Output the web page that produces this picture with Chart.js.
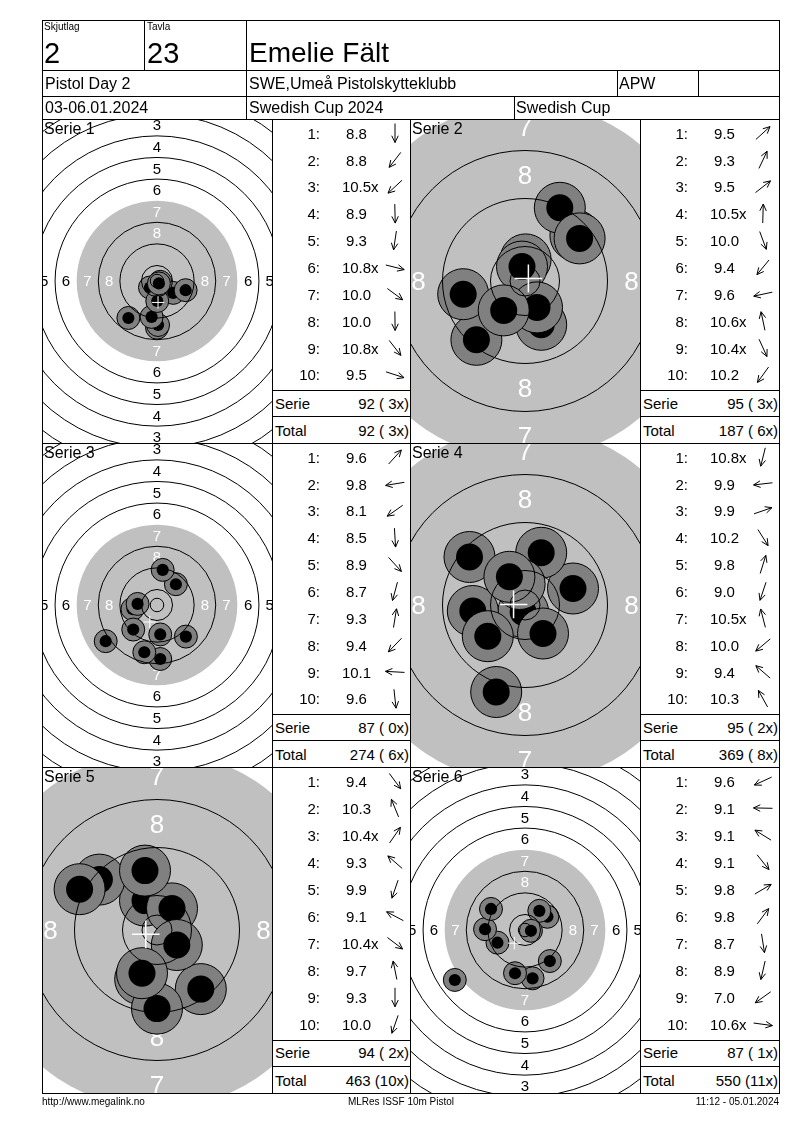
<!DOCTYPE html>
<html><head><meta charset="utf-8">
<script src="https://cdn.jsdelivr.net/npm/chart.js@4.4.1/dist/chart.umd.min.js"></script>
<style>
html,body{margin:0;padding:0;background:#fff;}
body{width:800px;height:1130px;position:relative;overflow:hidden;font-family:"Liberation Sans",Arial,sans-serif;color:#000;}
#root{position:absolute;left:0;top:0;width:800px;height:1130px;}
.a{position:absolute;white-space:pre;line-height:1;}
.h{position:absolute;background:#000;height:1px;}
.v{position:absolute;background:#000;width:1px;}
canvas{position:absolute;}
</style></head><body>
<div id="root"></div>
<script>
// ---------- header / footer texts ----------
const headLabels = ["Skjutlag", "Tavla"];
const headValues = ["2", "23", "Emelie Fält"];
const headRow2 = ["Pistol Day 2", "SWE,Umeå Pistolskytteklubb", "APW", ""];
const headRow3 = ["03-06.01.2024", "Swedish Cup 2024", "Swedish Cup"];
const footer = ["http://www.megalink.no", "MLRes ISSF 10m Pistol", "11:12 - 05.01.2024"];

// ---------- series data ----------
const seriesNames = ["Serie 1", "Serie 2", "Serie 3", "Serie 4", "Serie 5", "Serie 6"];
const scores1 = ["8.8", "8.8", "10.5x", "8.9", "9.3", "10.8x", "10.0", "10.0", "10.8x", "9.5"];
const scores2 = ["9.5", "9.3", "9.5", "10.5x", "10.0", "9.4", "9.6", "10.6x", "10.4x", "10.2"];
const scores3 = ["9.6", "9.8", "8.1", "8.5", "8.9", "8.7", "9.3", "9.4", "10.1", "9.6"];
const scores4 = ["10.8x", "9.9", "9.9", "10.2", "9.8", "9.0", "10.5x", "10.0", "9.4", "10.3"];
const scores5 = ["9.4", "10.3", "10.4x", "9.3", "9.9", "9.1", "10.4x", "9.7", "9.3", "10.0"];
const scores6 = ["9.6", "9.1", "9.1", "9.1", "9.8", "9.8", "8.7", "8.9", "7.0", "10.6x"];

// shot positions in mm from target centre (x right, y up)
const shotX1 = [0.0, -10.6, -2.6, 0.4, -2.0, 1.2, 6.0, 0.1, 0.7, 10.6];
const shotY1 = [-17.3, -13.7, -2.4, -16.3, -13.3, -0.3, -4.4, -7.4, -0.9, -3.4];
const shotX2 = [8.4, 5.8, 9.1, 0.1, 2.7, -8.1, -10.3, -0.5, 2.0, -3.55];
const shotY2 = [7.6, 12.2, 7.1, 3.6, -7.3, -9.8, -2.2, 2.4, -4.4, -4.9];
const shotX3 = [7.0, -9.1, -19.0, 1.2, 10.7, -4.7, 2.1, -8.8, -7.2, 1.2];
const shotY3 = [7.7, -1.5, -13.4, -20.0, -11.7, -17.5, 13.0, -9.1, 0.4, -10.9];
const shotX4 = [-0.3, -8.7, 8.0, 3.0, 2.7, -4.8, -0.9, -6.2, -9.25, -2.6];
const shotY4 = [-1.2, -1.0, 2.75, -4.75, 8.7, -14.5, 3.5, -5.2, 8.0, 4.7];
const shotX5 = [7.3, -2.0, 2.5, -9.6, -2.8, -12.9, 3.3, -2.0, 0.0, -2.5];
const shotY5 = [-9.85, 4.9, 3.6, 8.4, -8.2, 6.8, -2.5, 9.9, -13.1, -7.2];
const shotX6 = [-10.2, -14.8, -12.6, 9.2, 8.3, 5.3, 2.8, -3.7, -26.0, 2.2];
const shotY6 = [-4.7, 0.3, 7.8, -11.5, 4.9, 7.1, -17.9, -16.0, -18.5, -0.3];

const allScores = [scores1, scores2, scores3, scores4, scores5, scores6];
const allX = [shotX1, shotX2, shotX3, shotX4, shotX5, shotX6];
const allY = [shotY1, shotY2, shotY3, shotY4, shotY5, shotY6];

// ---------- target geometry (ISSF 10m air pistol, mm) ----------
const RING10 = 5.75, RING_STEP = 8, INNER_TEN = 2.5;
const SHOT_OUTER = 4.25, SHOT_INNER = 2.25;

const root = document.getElementById('root');
function txt(str, x, y, size, align, color) {
  const el = document.createElement('div'); el.className = 'a';
  el.textContent = str; el.style.fontSize = size + 'px';
  el.style.top = (y - 0.49 * size) + 'px';
  if (color) el.style.color = color;
  if (!align || align === 'left') el.style.left = x + 'px';
  else if (align === 'right') el.style.right = (800 - x) + 'px';
  else { el.style.left = x + 'px'; el.style.transform = 'translateX(-50%)'; }
  root.appendChild(el); return el;
}
function hline(x1, x2, y) { const d = document.createElement('div'); d.className = 'h'; d.style.left = x1 + 'px'; d.style.width = (x2 - x1 + 1) + 'px'; d.style.top = y + 'px'; root.appendChild(d); }
function vline(x, y1, y2) { const d = document.createElement('div'); d.className = 'v'; d.style.left = x + 'px'; d.style.top = y1 + 'px'; d.style.height = (y2 - y1 + 1) + 'px'; root.appendChild(d); }

function mm2px(chart, r) {
  const s = chart.scales.x;
  return Math.abs(s.getPixelForValue(r) - s.getPixelForValue(0));
}

const facePlugin = {
  id: 'targetFace',
  beforeDatasetsDraw(chart, args, opts) {
    const ctx = chart.ctx, xs = chart.scales.x, ys = chart.scales.y;
    const cx = xs.getPixelForValue(0), cy = ys.getPixelForValue(0);
    const k = mm2px(chart, 1);
    ctx.save();
    ctx.fillStyle = '#c0c0c0';
    ctx.beginPath(); ctx.arc(cx, cy, (RING10 + 3 * RING_STEP) * k, 0, Math.PI * 2); ctx.fill();
    ctx.font = opts.labelSize + 'px "Liberation Sans", Arial, sans-serif';
    ctx.textAlign = 'center'; ctx.textBaseline = 'alphabetic';
    for (let n = 1; n <= 8; n++) {
      const m = (RING10 + (10 - n) * RING_STEP - RING_STEP / 2) * k;
      ctx.fillStyle = n >= 7 ? '#ffffff' : '#000000';
      const off = 0.358 * opts.labelSize;
      [[0, -m], [0, m], [-m, 0], [m, 0]].forEach(p => ctx.fillText(String(n), cx + p[0], cy + p[1] + off));
    }
    ctx.restore();
  },
  afterDatasetsDraw(chart, args, opts) {
    const ctx = chart.ctx, xs = chart.scales.x, ys = chart.scales.y;
    const cx = xs.getPixelForValue(0), cy = ys.getPixelForValue(0);
    const k = mm2px(chart, 1);
    ctx.save();
    ctx.strokeStyle = '#000'; ctx.lineWidth = 1;
    for (let n = 1; n <= 10; n++) {
      if (n === 7) continue;
      ctx.beginPath(); ctx.arc(cx, cy, (RING10 + (10 - n) * RING_STEP) * k, 0, Math.PI * 2); ctx.stroke();
    }
    ctx.beginPath(); ctx.arc(cx, cy, INNER_TEN * k, 0, Math.PI * 2); ctx.stroke();
    // mean point of impact
    const mx = xs.getPixelForValue(opts.meanX), my = ys.getPixelForValue(opts.meanY);
    const hl = 2.3 * k;
    ctx.strokeStyle = '#fff'; ctx.lineWidth = opts.crossWidth;
    ctx.beginPath(); ctx.moveTo(mx - hl, my); ctx.lineTo(mx + hl, my);
    ctx.moveTo(mx, my - hl); ctx.lineTo(mx, my + hl); ctx.stroke();
    ctx.restore();
  }
};

function makeTarget(si, left, top, w, h) {
  const sc = allScores[si], xs = allX[si], ys = allY[si];
  const zoomed = Math.min(...sc.map(v => parseFloat(v))) >= 9.0;
  const s = zoomed ? 6.0 : 2.7; // px per mm
  const cv = document.createElement('canvas');
  cv.width = w; cv.height = h;
  cv.style.left = left + 'px'; cv.style.top = top + 'px';
  cv.style.width = w + 'px'; cv.style.height = h + 'px';
  root.appendChild(cv);
  const datasets = [];
  for (let i = sc.length - 1; i >= 0; i--) {
    const pt = [{ x: xs[i], y: ys[i] }];
    datasets.push({ data: pt, pointRadius: c => mm2px(c.chart, SHOT_INNER), pointHoverRadius: c => mm2px(c.chart, SHOT_INNER),
      pointBackgroundColor: '#000', pointBorderColor: '#000', pointBorderWidth: 0 });
    datasets.push({ data: pt, pointRadius: c => mm2px(c.chart, SHOT_OUTER), pointHoverRadius: c => mm2px(c.chart, SHOT_OUTER),
      pointBackgroundColor: '#808080', pointBorderColor: '#000', pointBorderWidth: 1 });
  }
  const meanX = xs.reduce((a, b) => a + b, 0) / xs.length;
  const meanY = ys.reduce((a, b) => a + b, 0) / ys.length;
  new Chart(cv, {
    type: 'scatter',
    data: { datasets },
    options: {
      responsive: false, animation: false, events: [],
      layout: { padding: 0 },
      scales: {
        x: { type: 'linear', min: -w / 2 / s, max: w / 2 / s, display: false },
        y: { type: 'linear', min: -h / 2 / s, max: h / 2 / s, display: false }
      },
      plugins: {
        legend: { display: false }, tooltip: { enabled: false },
        targetFace: { labelSize: zoomed ? 26 : 15, meanX, meanY, crossWidth: zoomed ? 1.5 : 1 }
      }
    },
    plugins: [facePlugin]
  });
}

// ---------- layout ----------
const L = 42, R = 779;
const rowTops = [119, 443, 767], rowBots = [443, 767, 1093];
const panelCols = [[42, 272], [410, 640]];
const listCols = [[272, 410], [640, 779]];

const svgNS = 'http://www.w3.org/2000/svg';
const svg = document.createElementNS(svgNS, 'svg');
svg.setAttribute('width', 800); svg.setAttribute('height', 1130);
svg.style.position = 'absolute'; svg.style.left = '0'; svg.style.top = '0';

function arrow(cx, cy, ang) {
  const Ln = 19, hl = 7.5, ha = 0.45;
  const dx = Math.cos(ang), dy = -Math.sin(ang);
  const x1 = cx - dx * Ln / 2, y1 = cy - dy * Ln / 2, x2 = cx + dx * Ln / 2, y2 = cy + dy * Ln / 2;
  const back = Math.atan2(-dy, -dx);
  const a1x = x2 + hl * Math.cos(back + ha), a1y = y2 + hl * Math.sin(back + ha);
  const a2x = x2 + hl * Math.cos(back - ha), a2y = y2 + hl * Math.sin(back - ha);
  const p = document.createElementNS(svgNS, 'path');
  p.setAttribute('d', `M${x1} ${y1}L${x2} ${y2}M${a1x} ${a1y}L${x2} ${y2}L${a2x} ${a2y}`);
  p.setAttribute('stroke', '#000'); p.setAttribute('stroke-width', '1'); p.setAttribute('fill', 'none');
  svg.appendChild(p);
}

let runTotal = 0, runX = 0;
for (let si = 0; si < 6; si++) {
  const r = Math.floor(si / 2), c = si % 2;
  const top = rowTops[r], bot = rowBots[r], hgt = bot - top;
  const f = hgt / 324;
  const [px1, px2] = panelCols[c];
  makeTarget(si, px1, top, px2 - px1, hgt);
  txt(seriesNames[si], px1 + 2, top + 10 * f, 16);
  const [lx1, lx2] = listCols[c];
  const sc = allScores[si];
  let sum = 0, xc = 0;
  sc.forEach((v, i) => {
    const y = top + (14 + 26.86 * i) * f;
    txt((i + 1) + ':', lx1 + 48, y, 15, 'right');
    const num = v.replace('x', '');
    const el = txt(num, lx1 + 84.5, y, 15, 'center');
    if (v.endsWith('x')) { const sp = document.createElement('span'); sp.textContent = 'x'; sp.style.position = 'absolute'; sp.style.left = '100%'; sp.style.top = '0'; el.appendChild(sp); xc++; }
    sum += Math.floor(parseFloat(num));
    arrow(lx1 + 123, y, Math.atan2(allY[si][i], allX[si][i]));
  });
  runTotal += sum; runX += xc;
  const fmt = (t, x) => `${t} (${x < 10 ? ' ' : ''}${x}x)`;
  hline(lx1, lx2, Math.round(top + 271 * f));
  hline(lx1, lx2, Math.round(top + 297 * f));
  txt('Serie', lx1 + 3, top + 284 * f, 15);
  txt(fmt(sum, xc), lx2 - 1, top + 284 * f, 15, 'right');
  txt('Total', lx1 + 3, top + 311 * f, 15);
  txt(fmt(runTotal, runX), lx2 - 1, top + 311 * f, 15, 'right');
}
root.appendChild(svg);

// header texts
txt(headLabels[0], 44, 27, 10);
txt(headLabels[1], 147, 27, 10);
txt(headValues[0], 44, 53, 29);
txt(headValues[1], 147, 53, 29);
txt(headValues[2], 249, 53, 28);
txt(headRow2[0], 45, 84, 16);
txt(headRow2[1], 249, 84, 16);
txt(headRow2[2], 619, 84, 16);
txt(headRow2[3], 701, 84, 16);
txt(headRow3[0], 45, 108, 16);
txt(headRow3[1], 249, 108, 16);
txt(headRow3[2], 516, 108, 16);
txt(footer[0], 42, 1102, 10);
txt(footer[1], 401, 1102, 10, 'center');
txt(footer[2], 779, 1102, 10, 'right');

// frame lines
hline(L, R, 20); hline(L, R, 70); hline(L, R, 96); hline(L, R, 119);
hline(L, R, 443); hline(L, R, 767); hline(L, R, 1093);
vline(L, 20, 1093); vline(R, 20, 1093);
vline(144, 20, 70); vline(246, 20, 119);
vline(617, 70, 96); vline(698, 70, 96); vline(514, 96, 119);
vline(272, 119, 1093); vline(410, 119, 1093); vline(640, 119, 1093);
</script>
</body></html>
